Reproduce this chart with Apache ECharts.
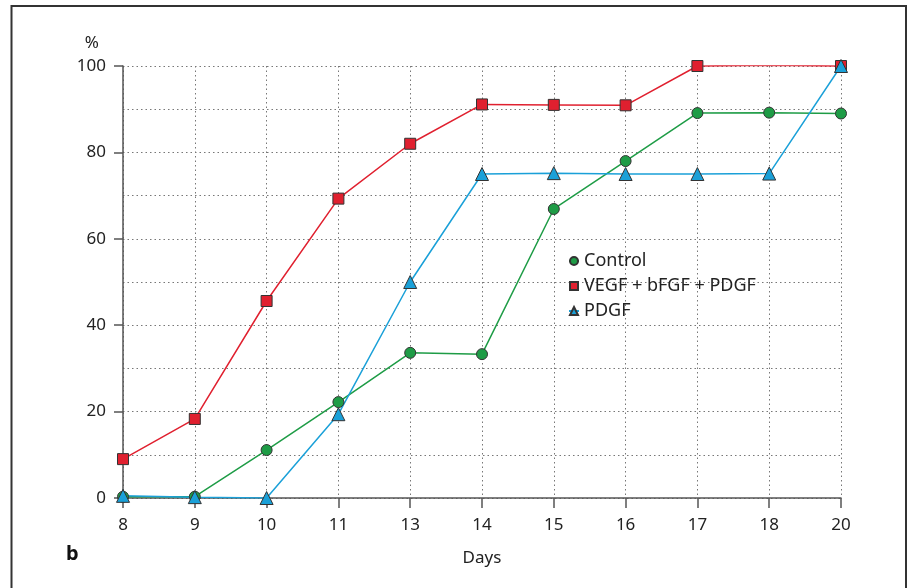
<!DOCTYPE html>
<html>
<head>
<meta charset="utf-8">
<script src="https://cdn.jsdelivr.net/npm/echarts@6/dist/echarts.min.js"></script>
<style>html,body{margin:0;padding:0;background:#fff}#c{width:909px;height:588px}</style>
</head>
<body>
<div id="c"></div>
<script>
const days = ['8','9','10','11','13','14','15','16','17','18','20'];
const control = [0.3, 0.3, 11.1, 22.2, 33.6, 33.3, 66.9, 78, 89.1, 89.2, 89];
const vegfMix = [9, 18.3, 45.6, 69.3, 82, 91.1, 91, 90.9, 100, 100.2, 100];
const pdgf = [0.5, 0.2, 0, 19.4, 50, 75, 75.2, 75, 75, 75.1, 100];
const yTicks = [0, 20, 40, 60, 80, 100];

const FONT = 'Noto Sans';
const chart = echarts.init(document.getElementById('c'));
const dotted = {show: true, lineStyle: {type: [1.5, 3], color: '#777', width: 1}};
function mk(name, data, color, symbol, size) {
  return {
    name, type: 'line', data, symbol, symbolSize: size,
    lineStyle: {color, width: 1.5},
    itemStyle: {color, borderColor: '#333', borderWidth: 1},
    emphasis: {disabled: true}, animation: false
  };
}
chart.setOption({
  animation: false,
  textStyle: {fontFamily: FONT},
  grid: {left: 123, right: 68, top: 66, bottom: 90, containLabel: false},
  legend: {
    orient: 'vertical', left: 563, top: 247, itemWidth: 10, itemHeight: 10, itemGap: 7,
    textStyle: {fontFamily: FONT, fontSize: 18, color: '#222'},
    data: ['Control', 'VEGF + bFGF + PDGF', 'PDGF']
  },
  xAxis: {
    type: 'category', data: days, boundaryGap: false,
    name: 'Days', nameLocation: 'middle', nameGap: 52,
    nameTextStyle: {fontFamily: FONT, fontSize: 17, color: '#222'},
    axisLine: {lineStyle: {color: '#555', width: 1.5}},
    axisTick: {show: true, length: 10, alignWithLabel: true, lineStyle: {color: '#555', width: 1.5}},
    axisLabel: {fontFamily: FONT, fontSize: 17, color: '#222', margin: 19},
    splitLine: dotted
  },
  yAxis: {
    type: 'value', min: yTicks[0], max: yTicks[yTicks.length - 1], interval: 20,
    name: '%', nameLocation: 'end', nameGap: 14,
    nameTextStyle: {fontFamily: FONT, fontSize: 17, color: '#222', align: 'right', padding: [0, 24, 0, 0]},
    axisLine: {show: true, lineStyle: {color: '#555', width: 1.5}},
    axisTick: {show: true, length: 9, lineStyle: {color: '#555', width: 1.5}},
    axisLabel: {fontFamily: FONT, fontSize: 17, color: '#222', margin: 17},
    splitLine: dotted,
    minorTick: {show: true, splitNumber: 2, length: 0},
    minorSplitLine: dotted
  },
  graphic: [{
    type: 'polyline', silent: true,
    shape: {points: [[11.5, 588], [11.5, 6], [906, 6], [906, 588]]},
    style: {stroke: '#333', lineWidth: 2, fill: null}
  }, {
    type: 'text', left: 66, top: 544,
    style: {text: 'b', font: 'bold 20px "' + FONT + '"', fill: '#111'}
  }],
  series: [
    mk('Control', control, '#1e9c46', 'circle', 11),
    mk('VEGF + bFGF + PDGF', vegfMix, '#e0202f', 'rect', 11),
    mk('PDGF', pdgf, '#1aa0d8', 'triangle', 13)
  ]
});
</script>
</body>
</html>
